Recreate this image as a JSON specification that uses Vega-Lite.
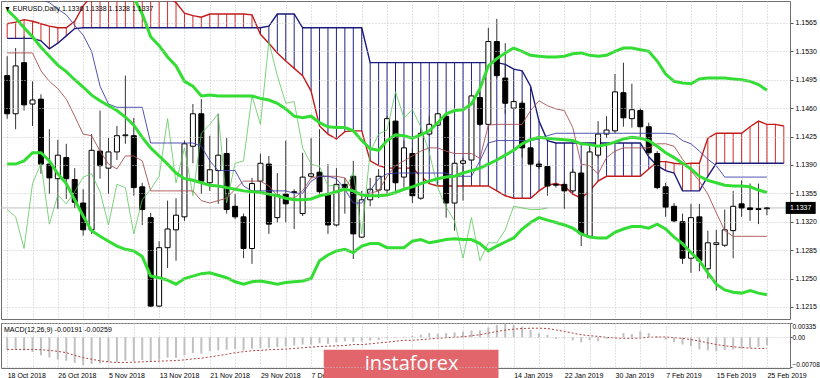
{
"$schema":"https://vega.github.io/schema/vega-lite/v6.json",
"padding":0,
"background":"white",
"spacing":2,
"config":{"font":"Liberation Sans","view":{"stroke":"#707070","strokeWidth":1},
"axis":{"labelFont":"Liberation Sans","labelFontSize":7,"labelColor":"#000000","gridColor":"#c4c4c4","gridDash":[1,2],"gridWidth":1,"domain":false,"ticks":false,"title":null,"labelOverlap":false,"labelBound":false},
"title":{"font":"Liberation Sans","fontSize":7,"fontWeight":"normal","color":"#000000"}},
"datasets":{
"bars":[
{"i":0,"open":1.1500,"high":1.1524,"low":1.1447,"close":1.1453,"bbUpper":1.1746,"bbMid":1.1581,"bbLower":1.1391,"tenkan":1.1528,"kijun":1.1617,"chikou":1.1335,"spanA":1.1564,"spanB":1.1546,"macd":-0.00284,"signal":-0.00284},
{"i":1,"open":1.1453,"high":1.1534,"low":1.1434,"close":1.1512,"bbUpper":1.1742,"bbMid":1.1571,"bbLower":1.1391,"tenkan":1.1528,"kijun":1.1610,"chikou":1.1326,"spanA":1.1566,"spanB":1.1546,"macd":-0.00291,"signal":-0.00284},
{"i":2,"open":1.1516,"high":1.1549,"low":1.1457,"close":1.1464,"bbUpper":1.1737,"bbMid":1.1559,"bbLower":1.1395,"tenkan":1.1528,"kijun":1.1604,"chikou":1.1287,"spanA":1.1569,"spanB":1.1546,"macd":-0.00307,"signal":-0.00284},
{"i":3,"open":1.1465,"high":1.1493,"low":1.1438,"close":1.1470,"bbUpper":1.1732,"bbMid":1.1548,"bbLower":1.1405,"tenkan":1.1528,"kijun":1.1598,"chikou":1.1367,"spanA":1.1567,"spanB":1.1546,"macd":-0.00345,"signal":-0.00284},
{"i":4,"open":1.1471,"high":1.1477,"low":1.1379,"close":1.1391,"bbUpper":1.1728,"bbMid":1.1535,"bbLower":1.1405,"tenkan":1.1506,"kijun":1.1594,"chikou":1.1392,"spanA":1.1564,"spanB":1.1543,"macd":-0.00422,"signal":-0.00291},
{"i":5,"open":1.1391,"high":1.1434,"low":1.1354,"close":1.1374,"bbUpper":1.1720,"bbMid":1.1524,"bbLower":1.1395,"tenkan":1.1493,"kijun":1.1590,"chikou":1.1317,"spanA":1.1561,"spanB":1.1533,"macd":-0.00476,"signal":-0.00307},
{"i":6,"open":1.1373,"high":1.1421,"low":1.1336,"close":1.1402,"bbUpper":1.1713,"bbMid":1.1513,"bbLower":1.1379,"tenkan":1.1484,"kijun":1.1582,"chikou":1.1353,"spanA":1.1559,"spanB":1.1540,"macd":-0.00522,"signal":-0.00330},
{"i":7,"open":1.1399,"high":1.1416,"low":1.1348,"close":1.1373,"bbUpper":1.1705,"bbMid":1.1505,"bbLower":1.1367,"tenkan":1.1471,"kijun":1.1575,"chikou":1.1342,"spanA":1.1559,"spanB":1.1549,"macd":-0.00552,"signal":-0.00360},
{"i":8,"open":1.1372,"high":1.1386,"low":1.1337,"close":1.1344,"bbUpper":1.1697,"bbMid":1.1495,"bbLower":1.1347,"tenkan":1.1450,"kijun":1.1562,"chikou":1.1357,"spanA":1.1567,"spanB":1.1558,"macd":-0.00598,"signal":-0.00422},
{"i":9,"open":1.1343,"high":1.1360,"low":1.1303,"close":1.1310,"bbUpper":1.1688,"bbMid":1.1486,"bbLower":1.1327,"tenkan":1.1428,"kijun":1.1550,"chikou":1.1375,"spanA":1.1586,"spanB":1.1559,"macd":-0.00652,"signal":-0.00476},
{"i":10,"open":1.1310,"high":1.1428,"low":1.1305,"close":1.1408,"bbUpper":1.1676,"bbMid":1.1476,"bbLower":1.1309,"tenkan":1.1426,"kijun":1.1530,"chikou":1.1379,"spanA":1.1598,"spanB":1.1559,"macd":-0.00629,"signal":-0.00514},
{"i":11,"open":1.1407,"high":1.1457,"low":1.1373,"close":1.1389,"bbUpper":1.1663,"bbMid":1.1469,"bbLower":1.1302,"tenkan":1.1407,"kijun":1.1487,"chikou":1.1357,"spanA":1.1604,"spanB":1.1559,"macd":-0.00614,"signal":-0.00552},
{"i":12,"open":1.1386,"high":1.1423,"low":1.1354,"close":1.1406,"bbUpper":1.1651,"bbMid":1.1463,"bbLower":1.1296,"tenkan":1.1391,"kijun":1.1465,"chikou":1.1316,"spanA":1.1604,"spanB":1.1559,"macd":-0.00583,"signal":-0.00575},
{"i":13,"open":1.1406,"high":1.1438,"low":1.1396,"close":1.1426,"bbUpper":1.1635,"bbMid":1.1457,"bbLower":1.1290,"tenkan":1.1385,"kijun":1.1461,"chikou":1.1366,"spanA":1.1604,"spanB":1.1559,"macd":-0.00583,"signal":-0.00591},
{"i":14,"open":1.1426,"high":1.1500,"low":1.1416,"close":1.1427,"bbUpper":1.1617,"bbMid":1.1449,"bbLower":1.1286,"tenkan":1.1401,"kijun":1.1461,"chikou":1.1362,"spanA":1.1604,"spanB":1.1559,"macd":-0.00552,"signal":-0.00591},
{"i":15,"open":1.1426,"high":1.1448,"low":1.1352,"close":1.1362,"bbUpper":1.1596,"bbMid":1.1439,"bbLower":1.1284,"tenkan":1.1401,"kijun":1.1461,"chikou":1.1305,"spanA":1.1604,"spanB":1.1559,"macd":-0.00568,"signal":-0.00583},
{"i":16,"open":1.1363,"high":1.1368,"low":1.1316,"close":1.1335,"bbUpper":1.1576,"bbMid":1.1424,"bbLower":1.1277,"tenkan":1.1395,"kijun":1.1461,"chikou":1.1347,"spanA":1.1604,"spanB":1.1559,"macd":-0.00537,"signal":-0.00575},
{"i":17,"open":1.1325,"high":1.1331,"low":1.1215,"close":1.1216,"bbUpper":1.1548,"bbMid":1.1411,"bbLower":1.1253,"tenkan":1.1358,"kijun":1.1417,"chikou":1.1360,"spanA":1.1604,"spanB":1.1559,"macd":-0.00575,"signal":-0.00568},
{"i":18,"open":1.1216,"high":1.1296,"low":1.1215,"close":1.1288,"bbUpper":1.1537,"bbMid":1.1401,"bbLower":1.1251,"tenkan":1.1358,"kijun":1.1417,"chikou":1.1376,"spanA":1.1604,"spanB":1.1559,"macd":-0.00522,"signal":-0.00560},
{"i":19,"open":1.1288,"high":1.1346,"low":1.1263,"close":1.1311,"bbUpper":1.1523,"bbMid":1.1391,"bbLower":1.1248,"tenkan":1.1358,"kijun":1.1417,"chikou":1.1447,"spanA":1.1598,"spanB":1.1559,"macd":-0.00476,"signal":-0.00552},
{"i":20,"open":1.1310,"high":1.1349,"low":1.1272,"close":1.1328,"bbUpper":1.1512,"bbMid":1.1380,"bbLower":1.1243,"tenkan":1.1358,"kijun":1.1417,"chikou":1.1368,"spanA":1.1590,"spanB":1.1559,"macd":-0.00483,"signal":-0.00545},
{"i":21,"open":1.1326,"high":1.1420,"low":1.1321,"close":1.1416,"bbUpper":1.1493,"bbMid":1.1373,"bbLower":1.1250,"tenkan":1.1358,"kijun":1.1417,"chikou":1.1411,"spanA":1.1577,"spanB":1.1559,"macd":-0.00422,"signal":-0.00529},
{"i":22,"open":1.1413,"high":1.1465,"low":1.1392,"close":1.1453,"bbUpper":1.1487,"bbMid":1.1371,"bbLower":1.1253,"tenkan":1.1358,"kijun":1.1417,"chikou":1.1352,"spanA":1.1574,"spanB":1.1559,"macd":-0.00368,"signal":-0.00506},
{"i":23,"open":1.1453,"high":1.1471,"low":1.1354,"close":1.1370,"bbUpper":1.1475,"bbMid":1.1368,"bbLower":1.1256,"tenkan":1.1346,"kijun":1.1413,"chikou":1.1429,"spanA":1.1572,"spanB":1.1559,"macd":-0.00384,"signal":-0.00491},
{"i":24,"open":1.1368,"high":1.1426,"low":1.1358,"close":1.1384,"bbUpper":1.1476,"bbMid":1.1365,"bbLower":1.1257,"tenkan":1.1343,"kijun":1.1395,"chikou":1.1440,"spanA":1.1576,"spanB":1.1559,"macd":-0.00322,"signal":-0.00460},
{"i":25,"open":1.1383,"high":1.1453,"low":1.1342,"close":1.1402,"bbUpper":1.1475,"bbMid":1.1364,"bbLower":1.1254,"tenkan":1.1346,"kijun":1.1383,"chikou":1.1453,"spanA":1.1576,"spanB":1.1559,"macd":-0.00307,"signal":-0.00430},
{"i":26,"open":1.1404,"high":1.1423,"low":1.1330,"close":1.1335,"bbUpper":1.1475,"bbMid":1.1362,"bbLower":1.1251,"tenkan":1.1349,"kijun":1.1383,"chikou":1.1343,"spanA":1.1576,"spanB":1.1559,"macd":-0.00291,"signal":-0.00399},
{"i":27,"open":1.1339,"high":1.1354,"low":1.1323,"close":1.1326,"bbUpper":1.1475,"bbMid":1.1360,"bbLower":1.1246,"tenkan":1.1360,"kijun":1.1383,"chikou":1.1392,"spanA":1.1576,"spanB":1.1559,"macd":-0.00276,"signal":-0.00360},
{"i":28,"open":1.1326,"high":1.1330,"low":1.1275,"close":1.1287,"bbUpper":1.1475,"bbMid":1.1358,"bbLower":1.1243,"tenkan":1.1370,"kijun":1.1364,"chikou":1.1395,"spanA":1.1576,"spanB":1.1559,"macd":-0.00307,"signal":-0.00337},
{"i":29,"open":1.1287,"high":1.1374,"low":1.1268,"close":1.1367,"bbUpper":1.1475,"bbMid":1.1357,"bbLower":1.1246,"tenkan":1.1370,"kijun":1.1358,"chikou":1.1475,"spanA":1.1575,"spanB":1.1559,"macd":-0.00268,"signal":-0.00314},
{"i":30,"open":1.1370,"high":1.1404,"low":1.1356,"close":1.1392,"bbUpper":1.1472,"bbMid":1.1356,"bbLower":1.1247,"tenkan":1.1370,"kijun":1.1358,"chikou":1.1440,"spanA":1.1551,"spanB":1.1559,"macd":-0.00253,"signal":-0.00307},
{"i":31,"open":1.1391,"high":1.1401,"low":1.1305,"close":1.1317,"bbUpper":1.1470,"bbMid":1.1354,"bbLower":1.1245,"tenkan":1.1364,"kijun":1.1358,"chikou":1.1542,"spanA":1.1540,"spanB":1.1561,"macd":-0.00245,"signal":-0.00291},
{"i":32,"open":1.1325,"high":1.1380,"low":1.1319,"close":1.1353,"bbUpper":1.1466,"bbMid":1.1352,"bbLower":1.1243,"tenkan":1.1352,"kijun":1.1358,"chikou":1.1500,"spanA":1.1528,"spanB":1.1576,"macd":-0.00230,"signal":-0.00284},
{"i":33,"open":1.1354,"high":1.1420,"low":1.1319,"close":1.1342,"bbUpper":1.1459,"bbMid":1.1349,"bbLower":1.1245,"tenkan":1.1349,"kijun":1.1358,"chikou":1.1466,"spanA":1.1518,"spanB":1.1576,"macd":-0.00215,"signal":-0.00276},
{"i":34,"open":1.1356,"high":1.1360,"low":1.1311,"close":1.1357,"bbUpper":1.1450,"bbMid":1.1347,"bbLower":1.1246,"tenkan":1.1349,"kijun":1.1355,"chikou":1.1468,"spanA":1.1509,"spanB":1.1576,"macd":-0.00192,"signal":-0.00261},
{"i":35,"open":1.1330,"high":1.1405,"low":1.1327,"close":1.1375,"bbUpper":1.1448,"bbMid":1.1347,"bbLower":1.1247,"tenkan":1.1358,"kijun":1.1355,"chikou":1.1411,"spanA":1.1500,"spanB":1.1559,"macd":-0.00169,"signal":-0.00245},
{"i":36,"open":1.1376,"high":1.1423,"low":1.1374,"close":1.1379,"bbUpper":1.1450,"bbMid":1.1348,"bbLower":1.1250,"tenkan":1.1374,"kijun":1.1370,"chikou":1.1391,"spanA":1.1481,"spanB":1.1559,"macd":-0.00169,"signal":-0.00230},
{"i":37,"open":1.1381,"high":1.1434,"low":1.1354,"close":1.1357,"bbUpper":1.1442,"bbMid":1.1352,"bbLower":1.1272,"tenkan":1.1376,"kijun":1.1376,"chikou":1.1388,"spanA":1.1438,"spanB":1.1559,"macd":-0.00138,"signal":-0.00215},
{"i":38,"open":1.1354,"high":1.1391,"low":1.1305,"close":1.1316,"bbUpper":1.1437,"bbMid":1.1354,"bbLower":1.1279,"tenkan":1.1376,"kijun":1.1376,"chikou":1.1364,"spanA":1.1428,"spanB":1.1559,"macd":-0.00153,"signal":-0.00207},
{"i":39,"open":1.1316,"high":1.1386,"low":1.1314,"close":1.1366,"bbUpper":1.1436,"bbMid":1.1357,"bbLower":1.1284,"tenkan":1.1376,"kijun":1.1373,"chikou":1.1365,"spanA":1.1422,"spanB":1.1559,"macd":-0.00115,"signal":-0.00199},
{"i":40,"open":1.1366,"high":1.1374,"low":1.1330,"close":1.1362,"bbUpper":1.1436,"bbMid":1.1360,"bbLower":1.1286,"tenkan":1.1374,"kijun":1.1360,"chikou":1.1358,"spanA":1.1431,"spanB":1.1559,"macd":-0.00092,"signal":-0.00192},
{"i":41,"open":1.1376,"high":1.1395,"low":1.1274,"close":1.1305,"bbUpper":1.1432,"bbMid":1.1358,"bbLower":1.1282,"tenkan":1.1358,"kijun":1.1343,"chikou":1.1381,"spanA":1.1432,"spanB":1.1559,"macd":-0.00107,"signal":-0.00169},
{"i":42,"open":1.1301,"high":1.1358,"low":1.1300,"close":1.1347,"bbUpper":1.1420,"bbMid":1.1353,"bbLower":1.1290,"tenkan":1.1352,"kijun":1.1343,"chikou":1.1305,"spanA":1.1432,"spanB":1.1559,"macd":-0.00092,"signal":-0.00169},
{"i":43,"open":1.1347,"high":1.1374,"low":1.1339,"close":1.1360,"bbUpper":1.1410,"bbMid":1.1352,"bbLower":1.1293,"tenkan":1.1355,"kijun":1.1358,"chikou":1.1406,"spanA":1.1395,"spanB":1.1516,"macd":-0.00077,"signal":-0.00153},
{"i":44,"open":1.1359,"high":1.1385,"low":1.1349,"close":1.1376,"bbUpper":1.1408,"bbMid":1.1352,"bbLower":1.1293,"tenkan":1.1358,"kijun":1.1373,"chikou":1.1428,"spanA":1.1389,"spanB":1.1516,"macd":-0.00061,"signal":-0.00130},
{"i":45,"open":1.1359,"high":1.1450,"low":1.1352,"close":1.1447,"bbUpper":1.1420,"bbMid":1.1353,"bbLower":1.1288,"tenkan":1.1376,"kijun":1.1379,"chikou":1.1433,"spanA":1.1386,"spanB":1.1516,"macd":-0.00023,"signal":-0.00115},
{"i":46,"open":1.1444,"high":1.1453,"low":1.1354,"close":1.1368,"bbUpper":1.1427,"bbMid":1.1356,"bbLower":1.1288,"tenkan":1.1389,"kijun":1.1380,"chikou":1.1480,"spanA":1.1386,"spanB":1.1516,"macd":-0.00015,"signal":-0.00092},
{"i":47,"open":1.1375,"high":1.1420,"low":1.1362,"close":1.1411,"bbUpper":1.1426,"bbMid":1.1360,"bbLower":1.1288,"tenkan":1.1395,"kijun":1.1380,"chikou":1.1448,"spanA":1.1386,"spanB":1.1516,"macd":0.00015,"signal":-0.00069},
{"i":48,"open":1.1404,"high":1.1411,"low":1.1343,"close":1.1352,"bbUpper":1.1423,"bbMid":1.1363,"bbLower":1.1296,"tenkan":1.1401,"kijun":1.1380,"chikou":1.1458,"spanA":1.1386,"spanB":1.1516,"macd":0.00038,"signal":-0.00069},
{"i":49,"open":1.1349,"high":1.1434,"low":1.1347,"close":1.1429,"bbUpper":1.1427,"bbMid":1.1367,"bbLower":1.1298,"tenkan":1.1407,"kijun":1.1380,"chikou":1.1437,"spanA":1.1376,"spanB":1.1516,"macd":0.00061,"signal":-0.00054},
{"i":50,"open":1.1428,"high":1.1450,"low":1.1426,"close":1.1440,"bbUpper":1.1432,"bbMid":1.1370,"bbLower":1.1294,"tenkan":1.1411,"kijun":1.1380,"chikou":1.1405,"spanA":1.1367,"spanB":1.1516,"macd":0.00100,"signal":-0.00038},
{"i":51,"open":1.1439,"high":1.1454,"low":1.1438,"close":1.1453,"bbUpper":1.1442,"bbMid":1.1373,"bbLower":1.1296,"tenkan":1.1411,"kijun":1.1380,"chikou":1.1362,"spanA":1.1364,"spanB":1.1516,"macd":0.00084,"signal":-0.00023},
{"i":52,"open":1.1450,"high":1.1453,"low":1.1325,"close":1.1343,"bbUpper":1.1453,"bbMid":1.1375,"bbLower":1.1298,"tenkan":1.1407,"kijun":1.1380,"chikou":1.1338,"spanA":1.1364,"spanB":1.1516,"macd":0.00100,"signal":-0.00008},
{"i":53,"open":1.1343,"high":1.1397,"low":1.1309,"close":1.1392,"bbUpper":1.1457,"bbMid":1.1376,"bbLower":1.1299,"tenkan":1.1404,"kijun":1.1376,"chikou":1.1321,"spanA":1.1364,"spanB":1.1516,"macd":0.00115,"signal":0.0},
{"i":54,"open":1.1392,"high":1.1399,"low":1.1346,"close":1.1395,"bbUpper":1.1458,"bbMid":1.1380,"bbLower":1.1298,"tenkan":1.1404,"kijun":1.1376,"chikou":1.1275,"spanA":1.1364,"spanB":1.1516,"macd":0.00138,"signal":0.00015},
{"i":55,"open":1.1396,"high":1.1477,"low":1.1395,"close":1.1475,"bbUpper":1.1465,"bbMid":1.1383,"bbLower":1.1298,"tenkan":1.1404,"kijun":1.1376,"chikou":1.1325,"spanA":1.1364,"spanB":1.1516,"macd":0.00161,"signal":0.00038},
{"i":56,"open":1.1473,"high":1.1481,"low":1.1438,"close":1.1440,"bbUpper":1.1484,"bbMid":1.1386,"bbLower":1.1293,"tenkan":1.1398,"kijun":1.1395,"chikou":1.1272,"spanA":1.1364,"spanB":1.1516,"macd":0.00161,"signal":0.00061},
{"i":57,"open":1.1440,"high":1.1559,"low":1.1440,"close":1.1542,"bbUpper":1.1512,"bbMid":1.1391,"bbLower":1.1284,"tenkan":1.1439,"kijun":1.1417,"chikou":1.1294,"spanA":1.1364,"spanB":1.1516,"macd":0.00230,"signal":0.00100},
{"i":58,"open":1.1542,"high":1.1570,"low":1.1497,"close":1.1500,"bbUpper":1.1521,"bbMid":1.1396,"bbLower":1.1290,"tenkan":1.1440,"kijun":1.1420,"chikou":1.1294,"spanA":1.1358,"spanB":1.1516,"macd":0.00291,"signal":0.00138},
{"i":59,"open":1.1497,"high":1.1540,"low":1.1453,"close":1.1466,"bbUpper":1.1528,"bbMid":1.1402,"bbLower":1.1295,"tenkan":1.1440,"kijun":1.1420,"chikou":1.1310,"spanA":1.1352,"spanB":1.1514,"macd":0.00314,"signal":0.00169},
{"i":60,"open":1.1460,"high":1.1471,"low":1.1460,"close":1.1468,"bbUpper":1.1534,"bbMid":1.1408,"bbLower":1.1300,"tenkan":1.1440,"kijun":1.1420,"chikou":1.1339,"spanA":1.1349,"spanB":1.1508,"macd":0.00291,"signal":0.00192},
{"i":61,"open":1.1466,"high":1.1469,"low":1.1399,"close":1.1411,"bbUpper":1.1530,"bbMid":1.1416,"bbLower":1.1311,"tenkan":1.1440,"kijun":1.1420,"chikou":1.1337,"spanA":1.1349,"spanB":1.1506,"macd":0.00253,"signal":0.00207},
{"i":62,"open":1.1411,"high":1.1413,"low":1.1383,"close":1.1391,"bbUpper":1.1525,"bbMid":1.1421,"bbLower":1.1319,"tenkan":1.1457,"kijun":1.1420,"chikou":1.1335,"spanA":1.1349,"spanB":1.1487,"macd":0.00176,"signal":0.00215},
{"i":63,"open":1.1391,"high":1.1395,"low":1.1385,"close":1.1388,"bbUpper":1.1524,"bbMid":1.1424,"bbLower":1.1325,"tenkan":1.1469,"kijun":1.1422,"chikou":1.1335,"spanA":1.1358,"spanB":1.1444,"macd":0.00092,"signal":0.00215},
{"i":64,"open":1.1388,"high":1.1390,"low":1.1352,"close":1.1364,"bbUpper":1.1523,"bbMid":1.1423,"bbLower":1.1322,"tenkan":1.1463,"kijun":1.1426,"chikou":1.1337,"spanA":1.1365,"spanB":1.1420,"macd":0.00061,"signal":0.00207},
{"i":65,"open":1.1366,"high":1.1368,"low":1.1362,"close":1.1365,"bbUpper":1.1523,"bbMid":1.1422,"bbLower":1.1319,"tenkan":1.1459,"kijun":1.1429,"spanA":1.1367,"spanB":1.1417,"macd":-0.00038,"signal":0.00176},
{"i":66,"open":1.1366,"high":1.1370,"low":1.1336,"close":1.1358,"bbUpper":1.1524,"bbMid":1.1421,"bbLower":1.1316,"tenkan":1.1457,"kijun":1.1429,"spanA":1.1364,"spanB":1.1417,"macd":-0.00015,"signal":0.00138},
{"i":67,"open":1.1358,"high":1.1385,"low":1.1356,"close":1.1381,"bbUpper":1.1527,"bbMid":1.1420,"bbLower":1.1312,"tenkan":1.1436,"kijun":1.1429,"spanA":1.1354,"spanB":1.1417,"macd":-0.00069,"signal":0.00100},
{"i":68,"open":1.1380,"high":1.1389,"low":1.1290,"close":1.1305,"bbUpper":1.1528,"bbMid":1.1416,"bbLower":1.1305,"tenkan":1.1391,"kijun":1.1429,"spanA":1.1349,"spanB":1.1417,"macd":-0.00115,"signal":0.00061},
{"i":69,"open":1.1302,"high":1.1411,"low":1.1302,"close":1.1406,"bbUpper":1.1525,"bbMid":1.1415,"bbLower":1.1301,"tenkan":1.1389,"kijun":1.1429,"spanA":1.1358,"spanB":1.1417,"macd":-0.00069,"signal":0.00038},
{"i":70,"open":1.1402,"high":1.1444,"low":1.1399,"close":1.1428,"bbUpper":1.1524,"bbMid":1.1413,"bbLower":1.1300,"tenkan":1.1379,"kijun":1.1429,"spanA":1.1370,"spanB":1.1417,"macd":-0.00092,"signal":0.00023},
{"i":71,"open":1.1428,"high":1.1450,"low":1.1423,"close":1.1433,"bbUpper":1.1525,"bbMid":1.1415,"bbLower":1.1300,"tenkan":1.1399,"kijun":1.1429,"spanA":1.1376,"spanB":1.1417,"macd":-0.00038,"signal":0.0},
{"i":72,"open":1.1432,"high":1.1502,"low":1.1429,"close":1.1480,"bbUpper":1.1530,"bbMid":1.1418,"bbLower":1.1307,"tenkan":1.1407,"kijun":1.1429,"spanA":1.1376,"spanB":1.1417,"macd":-0.00015,"signal":-0.00015},
{"i":73,"open":1.1479,"high":1.1516,"low":1.1437,"close":1.1448,"bbUpper":1.1534,"bbMid":1.1422,"bbLower":1.1311,"tenkan":1.1411,"kijun":1.1429,"spanA":1.1376,"spanB":1.1417,"macd":0.00100,"signal":-0.00023},
{"i":74,"open":1.1447,"high":1.1490,"low":1.1436,"close":1.1458,"bbUpper":1.1534,"bbMid":1.1424,"bbLower":1.1314,"tenkan":1.1411,"kijun":1.1429,"spanA":1.1376,"spanB":1.1417,"macd":0.00077,"signal":-0.00023},
{"i":75,"open":1.1457,"high":1.1460,"low":1.1423,"close":1.1437,"bbUpper":1.1532,"bbMid":1.1423,"bbLower":1.1314,"tenkan":1.1411,"kijun":1.1429,"spanA":1.1376,"spanB":1.1417,"macd":0.00138,"signal":-0.00015},
{"i":76,"open":1.1437,"high":1.1442,"low":1.1402,"close":1.1405,"bbUpper":1.1530,"bbMid":1.1420,"bbLower":1.1312,"tenkan":1.1411,"kijun":1.1429,"spanA":1.1385,"spanB":1.1400,"macd":0.00100,"signal":0.0},
{"i":77,"open":1.1404,"high":1.1407,"low":1.1360,"close":1.1362,"bbUpper":1.1518,"bbMid":1.1413,"bbLower":1.1317,"tenkan":1.1416,"kijun":1.1429,"spanA":1.1394,"spanB":1.1389,"macd":0.00023,"signal":0.00008},
{"i":78,"open":1.1363,"high":1.1368,"low":1.1326,"close":1.1338,"bbUpper":1.1502,"bbMid":1.1405,"bbLower":1.1311,"tenkan":1.1416,"kijun":1.1429,"spanA":1.1394,"spanB":1.1383,"macd":-0.00054,"signal":0.00008},
{"i":79,"open":1.1339,"high":1.1343,"low":1.1319,"close":1.1321,"bbUpper":1.1493,"bbMid":1.1399,"bbLower":1.1301,"tenkan":1.1413,"kijun":1.1428,"spanA":1.1392,"spanB":1.1380,"macd":-0.00115,"signal":-0.00008},
{"i":80,"open":1.1320,"high":1.1330,"low":1.1268,"close":1.1275,"bbUpper":1.1491,"bbMid":1.1392,"bbLower":1.1293,"tenkan":1.1397,"kijun":1.1420,"spanA":1.1391,"spanB":1.1358,"macd":-0.00169,"signal":-0.00023},
{"i":81,"open":1.1275,"high":1.1342,"low":1.1257,"close":1.1325,"bbUpper":1.1490,"bbMid":1.1385,"bbLower":1.1282,"tenkan":1.1383,"kijun":1.1416,"spanA":1.1392,"spanB":1.1358,"macd":-0.00207,"signal":-0.00054},
{"i":82,"open":1.1326,"high":1.1342,"low":1.1259,"close":1.1272,"bbUpper":1.1496,"bbMid":1.1376,"bbLower":1.1272,"tenkan":1.1370,"kijun":1.1407,"spanA":1.1392,"spanB":1.1358,"macd":-0.00284,"signal":-0.00084},
{"i":83,"open":1.1262,"high":1.1309,"low":1.1250,"close":1.1294,"bbUpper":1.1497,"bbMid":1.1371,"bbLower":1.1257,"tenkan":1.1354,"kijun":1.1397,"spanA":1.1423,"spanB":1.1376,"macd":-0.00307,"signal":-0.00130},
{"i":84,"open":1.1292,"high":1.1310,"low":1.1235,"close":1.1294,"bbUpper":1.1497,"bbMid":1.1368,"bbLower":1.1243,"tenkan":1.1331,"kijun":1.1389,"spanA":1.1429,"spanB":1.1392,"macd":-0.00322,"signal":-0.00169},
{"i":85,"open":1.1291,"high":1.1335,"low":1.1289,"close":1.1310,"bbUpper":1.1497,"bbMid":1.1365,"bbLower":1.1236,"tenkan":1.1309,"kijun":1.1375,"spanA":1.1429,"spanB":1.1392,"macd":-0.00299,"signal":-0.00199},
{"i":86,"open":1.1309,"high":1.1358,"low":1.1275,"close":1.1339,"bbUpper":1.1496,"bbMid":1.1364,"bbLower":1.1233,"tenkan":1.1302,"kijun":1.1375,"spanA":1.1429,"spanB":1.1392,"macd":-0.00284,"signal":-0.00222},
{"i":87,"open":1.1342,"high":1.1371,"low":1.1326,"close":1.1337,"bbUpper":1.1495,"bbMid":1.1364,"bbLower":1.1232,"tenkan":1.1302,"kijun":1.1375,"spanA":1.1429,"spanB":1.1392,"macd":-0.00268,"signal":-0.00238},
{"i":88,"open":1.1337,"high":1.1367,"low":1.1321,"close":1.1335,"bbUpper":1.1493,"bbMid":1.1363,"bbLower":1.1235,"tenkan":1.1302,"kijun":1.1375,"spanA":1.1437,"spanB":1.1392,"macd":-0.00245,"signal":-0.00253},
{"i":89,"open":1.1336,"high":1.1367,"low":1.1317,"close":1.1335,"bbUpper":1.1489,"bbMid":1.1359,"bbLower":1.1232,"tenkan":1.1302,"kijun":1.1375,"spanA":1.1444,"spanB":1.1392,"macd":-0.00222,"signal":-0.00261},
{"i":90,"open":1.1336,"high":1.1338,"low":1.1328,"close":1.1337,"bbUpper":1.1482,"bbMid":1.1356,"bbLower":1.1230,"tenkan":1.1302,"kijun":1.1375,"spanA":1.1440,"spanB":1.1392,"macd":-0.00191,"signal":-0.00259},
{"i":91,"spanA":1.1440,"spanB":1.1392},
{"i":92,"spanA":1.1438,"spanB":1.1392}
],
"last":[{"price":1.1337,"label":"1.1337"}],
"brand":[{"name":"instaforex"}]
},
"vconcat":[
{
"width":789,"height":318,
"title":{"text":"▼ EURUSD,Daily  1.1336 1.1338 1.1328 1.1337","anchor":"start","frame":"group","offset":-11,"dx":3},
"layer":[
{"data":{"name":"bars"},"mark":{"type":"rule","clip":true,"strokeWidth":1},
"encoding":{"x":{"field":"i","type":"quantitative","scale":{"domain":[-0.14,92.14],"nice":false,"zero":false},"axis":{"values":[0,3,6,9,12,15,18,21,24,27,30,33,36,39,42,45,48,51,54,57,60,63,66,69,72,75,78,81,84,87,90],"tickCount":100,"labels":false,"grid":true}},
"y":{"field":"spanA","type":"quantitative","scale":{"domain":[1.12001,1.1592],"nice":false,"zero":false},"axis":{"orient":"right","values":[1.1215,1.1250,1.1285,1.1320,1.1355,1.1390,1.1425,1.1460,1.1495,1.1530,1.1565],"tickCount":50,"format":".4f","grid":true,"ticks":true,"tickSize":3,"tickColor":"#555555","labelPadding":2,"labelOverlap":false,"labelBound":false,"labelFlush":false,"zindex":1}},
"y2":{"field":"spanB"},
"color":{"condition":{"test":"datum.spanA > datum.spanB","value":"#d42a2a"},"value":"#22228a"}}},
{"data":{"name":"last"},"mark":{"type":"rule","color":"#c0c0c0","strokeWidth":1},
"encoding":{"y":{"field":"price","type":"quantitative"}}},
{"data":{"name":"bars"},"mark":{"type":"line","clip":true,"color":"#1a1a7a","strokeWidth":1.4},
"encoding":{"x":{"field":"i","type":"quantitative"},"y":{"field":"spanB","type":"quantitative"}}},
{"data":{"name":"bars"},"mark":{"type":"line","clip":true,"color":"#c41a1a","strokeWidth":1.4},
"encoding":{"x":{"field":"i","type":"quantitative"},"y":{"field":"spanA","type":"quantitative"}}},
{"data":{"name":"bars"},"mark":{"type":"rule","clip":true,"color":"#333333","strokeWidth":1},
"encoding":{"x":{"field":"i","type":"quantitative"},"y":{"field":"low","type":"quantitative"},"y2":{"field":"high"}}},
{"data":{"name":"bars"},"mark":{"type":"bar","clip":true,"width":5,"stroke":"#000000","strokeWidth":1},
"encoding":{"x":{"field":"i","type":"quantitative"},"y":{"field":"open","type":"quantitative"},"y2":{"field":"close"},
"fill":{"condition":{"test":"datum.close < datum.open","value":"#000000"},"value":"#ffffff"}}},
{"data":{"name":"bars"},"mark":{"type":"line","clip":true,"color":"#5cc85c","strokeWidth":0.8},
"encoding":{"x":{"field":"i","type":"quantitative"},"y":{"field":"chikou","type":"quantitative"}}},
{"data":{"name":"bars"},"mark":{"type":"line","clip":true,"color":"#a85050","strokeWidth":0.9},
"encoding":{"x":{"field":"i","type":"quantitative"},"y":{"field":"tenkan","type":"quantitative"}}},
{"data":{"name":"bars"},"mark":{"type":"line","clip":true,"color":"#4040a8","strokeWidth":0.9},
"encoding":{"x":{"field":"i","type":"quantitative"},"y":{"field":"kijun","type":"quantitative"}}},
{"data":{"name":"bars"},"mark":{"type":"line","clip":true,"color":"#33dd33","strokeWidth":3},
"encoding":{"x":{"field":"i","type":"quantitative"},"y":{"field":"bbUpper","type":"quantitative"}}},
{"data":{"name":"bars"},"mark":{"type":"line","clip":true,"color":"#33dd33","strokeWidth":3},
"encoding":{"x":{"field":"i","type":"quantitative"},"y":{"field":"bbMid","type":"quantitative"}}},
{"data":{"name":"bars"},"mark":{"type":"line","clip":true,"color":"#33dd33","strokeWidth":3},
"encoding":{"x":{"field":"i","type":"quantitative"},"y":{"field":"bbLower","type":"quantitative"}}},
{"data":{"name":"last"},"mark":{"type":"point","shape":"M-1,-0.4H1V0.4H-1Z","filled":true,"color":"#000000","opacity":1,"size":900,"clip":false},
"encoding":{"x":{"datum":94.0,"type":"quantitative"},"y":{"field":"price","type":"quantitative"}}},
{"data":{"name":"last"},"mark":{"type":"text","color":"#ffffff","fontSize":7,"align":"center","baseline":"middle","clip":false},
"encoding":{"x":{"datum":94.0,"type":"quantitative"},"y":{"field":"price","type":"quantitative"},"text":{"field":"label"}}}
]
},
{
"width":789,"height":45,
"title":{"text":"MACD(12,26,9) -0.00191 -0.00259","anchor":"start","frame":"group","offset":-10,"dx":3},
"layer":[
{"data":{"name":"bars"},"mark":{"type":"bar","width":2,"color":"#c0c0c0","clip":true},
"encoding":{"x":{"field":"i","type":"quantitative","scale":{"domain":[-0.14,92.14],"nice":false,"zero":false},
"axis":{"values":[0,3,6,9,12,15,18,21,24,27,30,33,36,39,42,45,48,51,54,57,60,63,66,69,72,75,78,81,84,87,90],"tickCount":100,"grid":true,"labelAlign":"left","labelPadding":3,"labelFlush":false,
"labelExpr":"datum.value % 6 == 0 ? ['18 Oct 2018','26 Oct 2018','5 Nov 2018','13 Nov 2018','21 Nov 2018','29 Nov 2018','7 Dec 2018','','','','14 Jan 2019','22 Jan 2019','30 Jan 2019','7 Feb 2019','15 Feb 2019','25 Feb 2019'][datum.value / 6] : ''"}},
"y":{"field":"macd","type":"quantitative","scale":{"domain":[-0.0072,0.00337],"nice":false,"zero":false},
"axis":{"orient":"right","values":[-0.00708,0,0.00335],"tickCount":10,"grid":true,"ticks":true,"tickSize":2,"tickColor":"#555555","labelPadding":0,"labelFontSize":6.5,"labelFlush":true,"labelOverlap":false,"labelBound":false,"zindex":1,"labelExpr":"datum.value == 0 ? '0.00' : format(datum.value, '.5f')"}},
"y2":{"datum":0}}},
{"data":{"name":"bars"},"mark":{"type":"line","clip":true,"color":"#b04040","strokeWidth":1,"strokeDash":[2,2]},
"encoding":{"x":{"field":"i","type":"quantitative"},"y":{"field":"signal","type":"quantitative"}}},
{"data":{"name":"brand"},"mark":{"type":"rect","color":"#e2656b","clip":false},
"encoding":{"x":{"datum":37.5,"type":"quantitative"},"x2":{"datum":58.2},"y":{"datum":-0.0029,"type":"quantitative"},"y2":{"datum":-0.0099}}},
{"data":{"name":"brand"},"mark":{"type":"text","color":"#ffffff","font":"Open Sans","fontSize":20,"align":"center","baseline":"middle","clip":false},
"encoding":{"x":{"datum":47.9,"type":"quantitative"},"y":{"datum":-0.0062,"type":"quantitative"},"text":{"field":"name"}}}
]
}
]
}
